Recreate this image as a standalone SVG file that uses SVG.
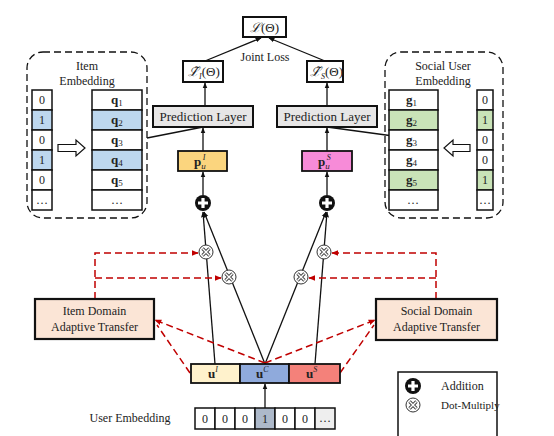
<svg xmlns="http://www.w3.org/2000/svg" width="554" height="436" viewBox="0 0 554 436" font-family="'Liberation Serif', 'Times New Roman', serif">
<style>
text{font-family:"Liberation Serif","Times New Roman",serif;fill:#222}
.c{text-anchor:middle}
.cell{stroke:#111;stroke-width:1.5}
.box{fill:#fff;stroke:#111;stroke-width:2}
.pl{fill:#E7E6E6;stroke:#111;stroke-width:2}
.dash{fill:none;stroke:#111;stroke-width:1.3;stroke-dasharray:7,4}
.ln{fill:none;stroke:#111;stroke-width:1.3}
.rd{fill:none;stroke:#C00000;stroke-width:1.5;stroke-dasharray:7,4}
.at{fill:#FBE5D6;stroke:#111;stroke-width:2.2}
</style>
<defs>
<marker id="ah" viewBox="0 0 10 10" refX="9" refY="5" markerUnits="userSpaceOnUse" markerWidth="6" markerHeight="6" orient="auto"><path d="M0,1 L10,5 L0,9 z" fill="#111"/></marker>
<marker id="ar" viewBox="0 0 10 10" refX="9" refY="5" markerUnits="userSpaceOnUse" markerWidth="7" markerHeight="7" orient="auto"><path d="M0,1 L10,5 L0,9 z" fill="#C00000"/></marker>
<g id="mul"><circle r="7" fill="#fff" stroke="#333" stroke-width="1"/><path d="M-3.5,-3.5 L3.5,3.5 M-3.5,3.5 L3.5,-3.5" stroke="#444" stroke-width="3.2"/><path d="M-3.5,-3.5 L3.5,3.5 M-3.5,3.5 L3.5,-3.5" stroke="#fff" stroke-width="1.4"/></g>
<g id="add"><circle r="8" fill="#111"/><path d="M-5,0 H5 M0,-5 V5" stroke="#fff" stroke-width="3.2"/></g>
</defs>

<g id="connectors">
<line class="ln" x1="205" y1="61" x2="261" y2="38" marker-end="url(#ah)"/>
<line class="ln" x1="325" y1="61" x2="269" y2="38" marker-end="url(#ah)"/>
<line class="ln" x1="205" y1="106" x2="205" y2="83" marker-end="url(#ah)"/>
<line class="ln" x1="327" y1="106" x2="327" y2="83" marker-end="url(#ah)"/>
<line class="ln" x1="203" y1="151" x2="203" y2="128" marker-end="url(#ah)"/>
<line class="ln" x1="327" y1="151" x2="327" y2="128" marker-end="url(#ah)"/>
<line class="ln" x1="203" y1="195" x2="203" y2="172" marker-end="url(#ah)"/>
<line class="ln" x1="327" y1="195" x2="327" y2="172" marker-end="url(#ah)"/>
<line class="ln" x1="147" y1="138" x2="203" y2="127"/>
<line class="ln" x1="408" y1="138" x2="327" y2="127"/>
<line class="ln" x1="215" y1="364" x2="203" y2="212" marker-end="url(#ah)"/>
<line class="ln" x1="265" y1="364" x2="204" y2="212" marker-end="url(#ah)"/>
<line class="ln" x1="265" y1="364" x2="326" y2="212" marker-end="url(#ah)"/>
<line class="ln" x1="315" y1="364" x2="327" y2="212" marker-end="url(#ah)"/>
<line class="ln" x1="265" y1="408" x2="265" y2="384" marker-end="url(#ah)"/>
<path class="rd" d="M95,299 V253 H198" marker-end="url(#ar)"/>
<path class="rd" d="M95,278 H221" marker-end="url(#ar)"/>
<path class="rd" d="M436,299 V253 H332" marker-end="url(#ar)"/>
<path class="rd" d="M436,278 H309" marker-end="url(#ar)"/>
<line class="rd" x1="265" y1="363" x2="155" y2="320" marker-end="url(#ar)"/>
<line class="rd" x1="190" y1="373" x2="157" y2="325"/>
<line class="rd" x1="265" y1="363" x2="375" y2="320" marker-end="url(#ar)"/>
<line class="rd" x1="340" y1="373" x2="374" y2="325"/>
</g>

<g id="mul-icons">
<use href="#mul" x="206" y="252"/>
<use href="#mul" x="229" y="277"/>
<use href="#mul" x="301" y="277"/>
<use href="#mul" x="324" y="252"/>
</g>
<g id="add-left"><use href="#add" x="203" y="203"/></g>
<g id="add-right"><use href="#add" x="327" y="203"/></g>

<g id="joint-loss">
<rect class="box" x="243" y="17" width="43" height="20"/>
<text class="c" x="264.5" y="32" font-size="13"><tspan font-style="italic">ℒ</tspan>(Θ)</text>
<text class="c" x="265" y="61" font-size="12">Joint Loss</text>
</g>
<g id="loss-item">
<rect class="box" x="183" y="61" width="40" height="21"/>
<text x="188" y="76" font-size="13"><tspan font-style="italic">ℒ̃</tspan><tspan font-size="8" dy="3" font-style="italic">I</tspan><tspan dy="-3">(Θ)</tspan></text>
</g>
<g id="loss-social">
<rect class="box" x="307" y="61" width="36" height="21"/>
<text x="310" y="76" font-size="13"><tspan font-style="italic">ℒ̃</tspan><tspan font-size="8" dy="3" font-style="italic">S</tspan><tspan dy="-3">(Θ)</tspan></text>
</g>
<g id="pred-left">
<rect class="pl" x="153" y="106" width="100" height="21"/>
<text class="c" x="203" y="121" font-size="13">Prediction Layer</text>
</g>
<g id="pred-right">
<rect class="pl" x="277" y="106" width="100" height="21"/>
<text class="c" x="327" y="121" font-size="13">Prediction Layer</text>
</g>
<g id="p-item">
<rect x="178" y="151" width="49" height="20" fill="#FBD57E" stroke="#111" stroke-width="1.8"/>
<text x="194" y="166" font-size="13"><tspan font-weight="bold">p</tspan><tspan font-size="9" font-style="italic" dy="3">u</tspan><tspan font-size="8" font-style="italic" dx="-3" dy="-9">I</tspan></text>
</g>
<g id="p-social">
<rect x="302" y="151" width="50" height="20" fill="#F78BD8" stroke="#111" stroke-width="1.8"/>
<text x="318" y="166" font-size="13"><tspan font-weight="bold">p</tspan><tspan font-size="9" font-style="italic" dy="3">u</tspan><tspan font-size="8" font-style="italic" dx="-3" dy="-9">S</tspan></text>
</g>

<g id="item-embedding">
<rect class="dash" x="27" y="52" width="120" height="166" rx="16"/>
<text class="c" x="87" y="70" font-size="12">Item</text>
<text class="c" x="87" y="85" font-size="12">Embedding</text>
<g class="cell">
<rect x="32" y="90" width="20" height="20" fill="#fff"/>
<rect x="32" y="110" width="20" height="20" fill="#BDD7EE"/>
<rect x="32" y="130" width="20" height="20" fill="#fff"/>
<rect x="32" y="150" width="20" height="20" fill="#BDD7EE"/>
<rect x="32" y="170" width="20" height="20" fill="#fff"/>
<rect x="32" y="190" width="20" height="20" fill="#fff"/>
<rect x="92" y="90" width="50" height="20" fill="#fff"/>
<rect x="92" y="110" width="50" height="20" fill="#BDD7EE"/>
<rect x="92" y="130" width="50" height="20" fill="#fff"/>
<rect x="92" y="150" width="50" height="20" fill="#BDD7EE"/>
<rect x="92" y="170" width="50" height="20" fill="#fff"/>
<rect x="92" y="190" width="50" height="20" fill="#fff"/>
</g>
<g font-size="12" text-anchor="middle">
<text x="42" y="104">0</text><text x="42" y="124">1</text><text x="42" y="144">0</text><text x="42" y="164">1</text><text x="42" y="184">0</text><text x="42" y="204">…</text>
</g>
<g font-size="13">
<text x="111" y="104"><tspan font-weight="bold">q</tspan><tspan font-size="9" dy="2">1</tspan></text>
<text x="111" y="124"><tspan font-weight="bold">q</tspan><tspan font-size="9" dy="2">2</tspan></text>
<text x="111" y="144"><tspan font-weight="bold">q</tspan><tspan font-size="9" dy="2">3</tspan></text>
<text x="111" y="164"><tspan font-weight="bold">q</tspan><tspan font-size="9" dy="2">4</tspan></text>
<text x="111" y="184"><tspan font-weight="bold">q</tspan><tspan font-size="9" dy="2">5</tspan></text>
<text class="c" x="117" y="204" font-size="12">…</text>
</g>
<polygon points="58,144.5 76,144.5 76,140 85,148 76,156 76,151.5 58,151.5" fill="#fff" stroke="#111" stroke-width="1.2"/>
</g>

<g id="social-embedding">
<rect class="dash" x="385" y="52" width="118" height="166" rx="16"/>
<text class="c" x="443" y="70" font-size="12">Social User</text>
<text class="c" x="443" y="85" font-size="12">Embedding</text>
<g class="cell">
<rect x="389" y="90" width="49" height="20" fill="#fff"/>
<rect x="389" y="110" width="49" height="20" fill="#C9E3B8"/>
<rect x="389" y="130" width="49" height="20" fill="#fff"/>
<rect x="389" y="150" width="49" height="20" fill="#fff"/>
<rect x="389" y="170" width="49" height="20" fill="#C9E3B8"/>
<rect x="389" y="190" width="49" height="20" fill="#fff"/>
<rect x="477" y="90" width="16" height="20" fill="#fff"/>
<rect x="477" y="110" width="16" height="20" fill="#C9E3B8"/>
<rect x="477" y="130" width="16" height="20" fill="#fff"/>
<rect x="477" y="150" width="16" height="20" fill="#fff"/>
<rect x="477" y="170" width="16" height="20" fill="#C9E3B8"/>
<rect x="477" y="190" width="16" height="20" fill="#fff"/>
</g>
<g font-size="12" text-anchor="middle">
<text x="485" y="104">0</text><text x="485" y="124">1</text><text x="485" y="144">0</text><text x="485" y="164">0</text><text x="485" y="184">1</text><text x="485" y="204">…</text>
</g>
<g font-size="13">
<text x="406" y="104"><tspan font-weight="bold">g</tspan><tspan font-size="9" dy="2">1</tspan></text>
<text x="406" y="124"><tspan font-weight="bold">g</tspan><tspan font-size="9" dy="2">2</tspan></text>
<text x="406" y="144"><tspan font-weight="bold">g</tspan><tspan font-size="9" dy="2">3</tspan></text>
<text x="406" y="164"><tspan font-weight="bold">g</tspan><tspan font-size="9" dy="2">4</tspan></text>
<text x="406" y="184"><tspan font-weight="bold">g</tspan><tspan font-size="9" dy="2">5</tspan></text>
<text class="c" x="413" y="204" font-size="12">…</text>
</g>
<polygon points="470,144.5 453,144.5 453,140 444,148 453,156 453,151.5 470,151.5" fill="#fff" stroke="#111" stroke-width="1.2"/>
</g>

<g id="item-transfer">
<rect class="at" x="35" y="299" width="119" height="40"/>
<text class="c" x="94.5" y="315" font-size="12">Item Domain</text>
<text class="c" x="94.5" y="331" font-size="12">Adaptive Transfer</text>
</g>
<g id="social-transfer">
<rect class="at" x="376" y="299" width="121" height="41"/>
<text class="c" x="436.5" y="315" font-size="12">Social Domain</text>
<text class="c" x="436.5" y="331" font-size="12">Adaptive Transfer</text>
</g>

<g id="user-vectors">
<rect x="191" y="364" width="49" height="19" fill="#FFF2CC" stroke="#111" stroke-width="1.8"/>
<rect x="240" y="364" width="49" height="19" fill="#8FAADC" stroke="#111" stroke-width="1.8"/>
<rect x="289" y="364" width="51" height="19" fill="#F4817A" stroke="#111" stroke-width="1.8"/>
<text x="208" y="378" font-size="13"><tspan font-weight="bold">u</tspan><tspan font-size="8" font-style="italic" dy="-6">I</tspan></text>
<text x="256" y="378" font-size="13"><tspan font-weight="bold">u</tspan><tspan font-size="8" font-style="italic" dy="-6">C</tspan></text>
<text x="306" y="378" font-size="13"><tspan font-weight="bold">u</tspan><tspan font-size="8" font-style="italic" dy="-6">S</tspan></text>
</g>

<g id="user-embedding">
<text class="c" x="130" y="422" font-size="12">User Embedding</text>
<g class="cell">
<rect x="195" y="408" width="20" height="21" fill="#fff"/>
<rect x="215" y="408" width="20" height="21" fill="#fff"/>
<rect x="235" y="408" width="20" height="21" fill="#fff"/>
<rect x="255" y="408" width="20" height="21" fill="#ADB9CA"/>
<rect x="275" y="408" width="20" height="21" fill="#fff"/>
<rect x="295" y="408" width="20" height="21" fill="#fff"/>
<rect x="315" y="408" width="20" height="21" fill="#EEEEEE"/>
</g>
<g font-size="12" text-anchor="middle">
<text x="205" y="423">0</text><text x="225" y="423">0</text><text x="245" y="423">0</text><text x="265" y="423">1</text><text x="285" y="423">0</text><text x="305" y="423">0</text><text x="325" y="422" fill="#999">…</text>
</g>
</g>

<g id="legend">
<path d="M398,440 V372 H497 V440" fill="none" stroke="#111" stroke-width="1.5"/>
<use href="#add" x="413" y="386"/>
<text x="441" y="390" font-size="12">Addition</text>
<use href="#mul" x="413" y="405"/>
<text x="441" y="409" font-size="11">Dot-Multiply</text>
</g>
</svg>
